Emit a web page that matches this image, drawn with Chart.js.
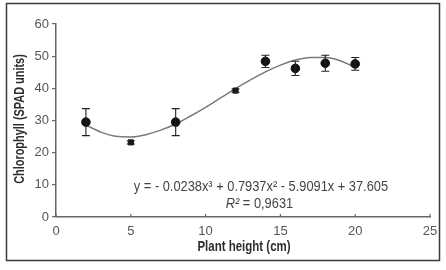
<!DOCTYPE html>
<html>
<head>
<meta charset="utf-8">
<script src="https://cdn.jsdelivr.net/npm/chart.js@4.4.0/dist/chart.umd.min.js"></script>
<style>
  html, body { margin: 0; padding: 0; background: #fff; }
  #wrap { width: 446px; height: 270px; }
</style>
</head>
<body>
<div id="wrap"><canvas id="chart" width="446" height="270"></canvas></div>
<script>
// Measured points (plant height, SPAD) with error bars
const heights = [2, 5, 8, 12, 14, 16, 18, 20];
const spad = [29.5, 23.2, 29.5, 39.3, 48.4, 46.2, 47.8, 47.6];
const spadErr = [4.2, 0.5, 4.2, 0.5, 1.9, 2.2, 2.5, 2.0];

// Fitted trend line
const trendX = [2, 3, 4, 5, 6, 7, 8, 9, 10, 11, 12, 13, 14, 15, 16, 17, 18, 19, 20];
const trendY = [28.6, 26.4, 25.1, 24.9, 25.6, 27.0, 28.9, 31.4, 34.1, 37.0, 39.9, 42.6, 45.1, 47.2, 48.8, 49.6, 49.6, 48.6, 46.5];

const xTicks = [0, 5, 10, 15, 20, 25];
const yTicks = [0, 10, 20, 30, 40, 50, 60];

const FONT = '"Liberation Sans", Arial, sans-serif';

// text squeezed sideways, to look like the narrow face of the original
function narrowText(ctx, text, x, y, font, squeeze, angle) {
    ctx.save();
    ctx.translate(x, y);
    if (angle) ctx.rotate(angle);
    ctx.scale(squeeze, 1);
    ctx.font = font;
    ctx.textAlign = 'center';
    ctx.textBaseline = 'middle';
    ctx.fillText(text, 0, 0);
    ctx.restore();
}

// Frame, error bars, inner x ticks, axis titles and the equation text
const extras = {
    id: 'extras',
    afterDraw(chart) {
        const ctx = chart.ctx;
        const xs = chart.scales.x;
        const ys = chart.scales.y;
        ctx.save();

        // outer frame
        ctx.strokeStyle = '#3a3a3a';
        ctx.lineWidth = 1.5;
        ctx.strokeRect(6.5, 3.5, 433, 257);

        // x ticks pointing up into the plot
        ctx.strokeStyle = '#666';
        ctx.lineWidth = 1.2;
        xTicks.forEach(v => {
            const px = xs.getPixelForValue(v);
            ctx.beginPath();
            ctx.moveTo(px, ys.bottom);
            ctx.lineTo(px, ys.bottom - 3);
            ctx.stroke();
        });

        // error bars
        ctx.strokeStyle = '#222';
        ctx.lineWidth = 1.1;
        heights.forEach((h, i) => {
            const px = xs.getPixelForValue(h);
            const top = ys.getPixelForValue(spad[i] + spadErr[i]);
            const bot = ys.getPixelForValue(spad[i] - spadErr[i]);
            ctx.beginPath();
            ctx.moveTo(px, top);
            ctx.lineTo(px, bot);
            ctx.moveTo(px - 4, top);
            ctx.lineTo(px + 4, top);
            ctx.moveTo(px - 4, bot);
            ctx.lineTo(px + 4, bot);
            ctx.stroke();
        });

        // axis titles
        ctx.fillStyle = '#2e2e2e';
        narrowText(ctx, 'Plant height (cm)', (xs.left + xs.right) / 2 + 1, 247.5, 'bold 14px ' + FONT, 0.82);
        narrowText(ctx, 'Chlorophyll (SPAD units)', 20, 119, 'bold 14px ' + FONT, 0.78, -Math.PI / 2);

        // equation
        ctx.fillStyle = '#444';
        narrowText(ctx, 'y = - 0.0238x³ + 0.7937x² - 5.9091x + 37.605',
            xs.getPixelForValue(13.7), ys.getPixelForValue(9.5), '15px ' + FONT, 0.855);

        const rx = xs.getPixelForValue(13.6);
        const ry = ys.getPixelForValue(4.1);
        const sq = 0.855;
        ctx.font = 'italic 15px ' + FONT;
        const rW = ctx.measureText('R²').width * sq;
        ctx.font = '15px ' + FONT;
        const restW = ctx.measureText(' = 0,9631').width * sq;
        const start = rx - (rW + restW) / 2;
        narrowText(ctx, 'R²', start + rW / 2, ry, 'italic 15px ' + FONT, sq);
        narrowText(ctx, ' = 0,9631', start + rW + restW / 2, ry, '15px ' + FONT, sq);

        ctx.restore();
    }
};

new Chart(document.getElementById('chart'), {
    type: 'scatter',
    data: {
        datasets: [
            {
                label: 'trend',
                data: trendX.map((x, i) => ({ x: x, y: trendY[i] })),
                showLine: true,
                borderColor: '#7a7a7a',
                borderWidth: 1.5,
                pointRadius: 0,
                cubicInterpolationMode: 'monotone',
                order: 2
            },
            {
                label: 'SPAD',
                data: heights.map((x, i) => ({ x: x, y: spad[i] })),
                backgroundColor: '#111',
                borderColor: '#111',
                pointStyle: heights.map((h, i) => (spadErr[i] < 1 ? 'rect' : 'circle')),
                pointRadius: heights.map((h, i) => (spadErr[i] < 1 ? 3.6 : 4.3)),
                order: 1
            }
        ]
    },
    options: {
        responsive: false,
        animation: false,
        layout: { padding: { top: 24, right: 16, bottom: 0, left: 0 } },
        plugins: {
            legend: { display: false },
            tooltip: { enabled: false }
        },
        scales: {
            x: {
                type: 'linear',
                min: 0,
                max: 25,
                afterBuildTicks: s => { s.ticks = xTicks.map(v => ({ value: v })); },
                afterFit: s => { s.height = 53; },
                grid: { display: false, drawTicks: false },
                border: { display: true, color: '#666', width: 1.5 },
                ticks: { color: '#555', font: { family: FONT, size: 13 }, padding: 7 }
            },
            y: {
                min: 0,
                max: 60,
                afterBuildTicks: s => { s.ticks = yTicks.map(v => ({ value: v })); },
                afterFit: s => { s.width = 56; },
                grid: { drawOnChartArea: false, tickLength: 4, color: '#666', lineWidth: 1.2 },
                border: { display: true, color: '#666', width: 1.5 },
                ticks: { color: '#555', font: { family: FONT, size: 13 }, padding: 3 }
            }
        }
    },
    plugins: [extras]
});
</script>
</body>
</html>
